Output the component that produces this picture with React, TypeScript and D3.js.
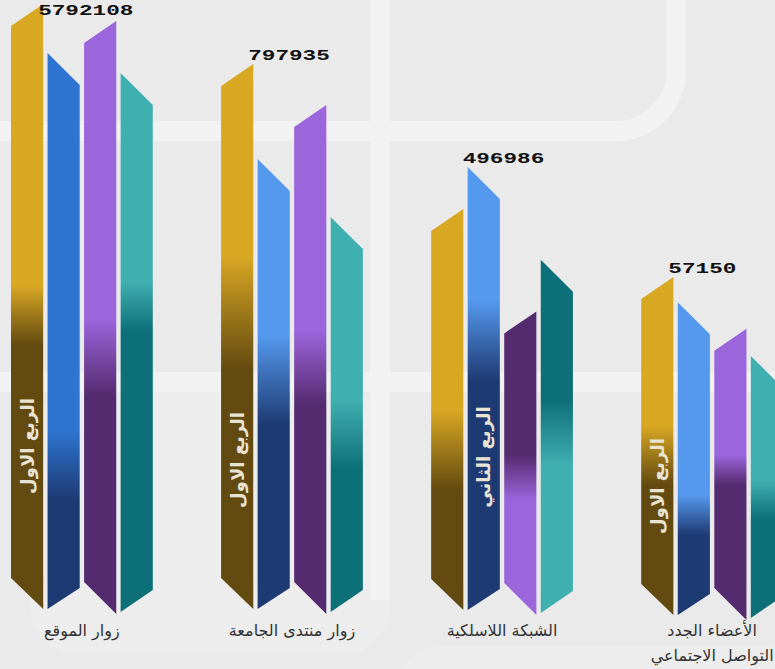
import React from 'react';
import * as d3 from 'd3';

// ---------- data ----------
const categoryLines: string[][] = [
  ['زوار الموقع'],
  ['زوار منتدى الجامعة'],
  ['الشبكة اللاسلكية'],
  ['الأعضاء الجدد', 'التواصل الاجتماعي'],
];
const quarters = ['الربع الاول', 'الربع الثاني', 'الربع الثالث', 'الربع الرابع'];
const q1 = [5792108, 797935, 450000, 57150];
const q2 = [5323000, 659000, 496986, 52900];
const q3 = [5629000, 738000, 335000, 48400];
const q4 = [5132000, 574000, 393000, 43800];
const series = [q1, q2, q3, q4];
// which quarter carries the rotated quarter name inside each group
const innerLabelQuarter = [0, 0, 1, 0];

// ---------- layout / style ----------
const W = 775;
const H = 669;
const groupBase = [609, 609, 610, 615];
const groupMaxTop = [4, 64, 167, 277];
const innerLabelY = [446, 460, 457, 486];
const lightColors = ['#D9A823', '#5599EE', '#9B65DC', '#40AFB0'];
const darkColors = ['#634A10', '#1E3A72', '#552B70', '#0D6F78'];
const firstGroupBlue = '#2E75D2';
// gradient transition [from, to, inverted]
const transitions: [number, number, boolean][][] = [
  [[285, 345, false], [430, 500, false], [320, 395, false], [282, 332, false]],
  [[255, 370, false], [335, 425, false], [330, 405, false], [400, 470, false]],
  [[410, 490, false], [300, 380, false], [455, 500, true], [400, 465, true]],
  [[425, 485, false], [495, 535, false], [455, 485, false], [480, 520, false]],
];
const topSlant = [22, 32, 22, 32];
const bottomLeft = [-31, 0, -27, 3];
const bottomRight = [0, -21, 5, -19];

export default function App() {
  const x0 = d3
    .scaleBand<number>()
    .domain(d3.range(categoryLines.length))
    .range([11, 783])
    .paddingInner(0.325)
    .paddingOuter(0);
  const x1 = d3
    .scaleBand<number>()
    .domain(d3.range(quarters.length))
    .range([0, x0.bandwidth()])
    .paddingInner(0.12);

  const groups = categoryLines.map((_, g) => {
    const vals = series.map((s) => s[g]);
    const maxV = d3.max(vals) as number;
    const y = d3.scaleLinear().domain([0, maxV]).range([groupBase[g], groupMaxTop[g]]);
    return { g, vals, maxV, y };
  });

  return (
    <svg
      width={W}
      height={H}
      style={{ position: 'absolute', left: 0, top: 0, display: 'block' }}
    >
      <defs>
        {groups.map(({ g }) =>
          quarters.map((_, q) => {
            const [a, b, inv] = transitions[g][q];
            const light = g === 0 && q === 1 ? firstGroupBlue : lightColors[q];
            const dark = darkColors[q];
            return (
              <linearGradient
                key={`gr-${g}-${q}`}
                id={`gr-${g}-${q}`}
                gradientUnits="userSpaceOnUse"
                x1={0}
                x2={0}
                y1={a}
                y2={b}
              >
                <stop offset="0" stopColor={inv ? dark : light} />
                <stop offset="1" stopColor={inv ? light : dark} />
              </linearGradient>
            );
          })
        )}
      </defs>

      {/* background */}
      <rect x={0} y={0} width={W} height={H} fill="#EAEAEA" />
      <rect x={30} y={392} width={360} height={263} rx={50} fill="#EDEDED" />
      <rect x={395} y={645} width={420} height={200} rx={50} fill="#EDEDED" />
      <g fill="none" stroke="#F2F2F2" strokeWidth={20}>
        <path d="M -20 131 H 616 A 60 60 0 0 0 676 71 V -20" />
        <path d="M 380 -20 V 600" />
        <path d="M -20 382 H 800" />
      </g>

      {/* bars */}
      {groups.map(({ g, vals, y }) => {
        const gx = x0(g) as number;
        return (
          <g key={`g-${g}`}>
            {vals.map((v, q) => {
              const xa = gx + (x1(q) as number);
              const xb = xa + x1.bandwidth();
              const top = y(v);
              const up = q % 2 === 0;
              const yTL = up ? top + topSlant[q] : top;
              const yTR = up ? top : top + topSlant[q];
              const base = groupBase[g];
              const yBL = base + bottomLeft[q];
              const yBR = base + bottomRight[q];
              const d = `M${xa},${yTL}L${xb},${yTR}L${xb},${yBR}L${xa},${yBL}Z`;
              return <path key={`b-${g}-${q}`} d={d} fill={`url(#gr-${g}-${q})`} />;
            })}
            {(() => {
              const q = innerLabelQuarter[g];
              const cx = gx + (x1(q) as number) + x1.bandwidth() / 2;
              const cy = innerLabelY[g];
              return (
                <text
                  transform={`translate(${cx},${cy}) rotate(-90)`}
                  textAnchor="middle"
                  dominantBaseline="central"
                  fontFamily="DejaVu Sans"
                  fontWeight="bold"
                  fontSize={18}
                  fill="#E9E3D3"
                >
                  {quarters[q]}
                </text>
              );
            })()}
          </g>
        );
      })}

      {/* max value labels */}
      {groups.map(({ g, vals, maxV, y }) => {
        const gx = x0(g) as number;
        const qi = vals.indexOf(maxV);
        const xa = gx + (x1(qi) as number);
        const peakX = qi % 2 === 0 ? xa + x1.bandwidth() : xa;
        const label = String(maxV);
        const by = Math.max(y(maxV) - 4, 15);
        return (
          <text
            key={`v-${g}`}
            x={peakX - 5}
            y={by}
            fontFamily="Liberation Mono"
            fontWeight="bold"
            fontSize={14}
            textLength={13.6 * label.length}
            lengthAdjust="spacingAndGlyphs"
            fill="#111"
          >
            {label}
          </text>
        );
      })}

      {/* category labels */}
      {categoryLines.map((lines, g) => {
        const cx = (x0(g) as number) + x0.bandwidth() / 2;
        return lines.map((ln, i) => (
          <text
            key={`c-${g}-${i}`}
            x={cx}
            y={636 + i * 25}
            textAnchor="middle"
            fontFamily="DejaVu Sans"
            fontSize={16}
            fill="#333"
          >
            {ln}
          </text>
        ));
      })}
    </svg>
  );
}
